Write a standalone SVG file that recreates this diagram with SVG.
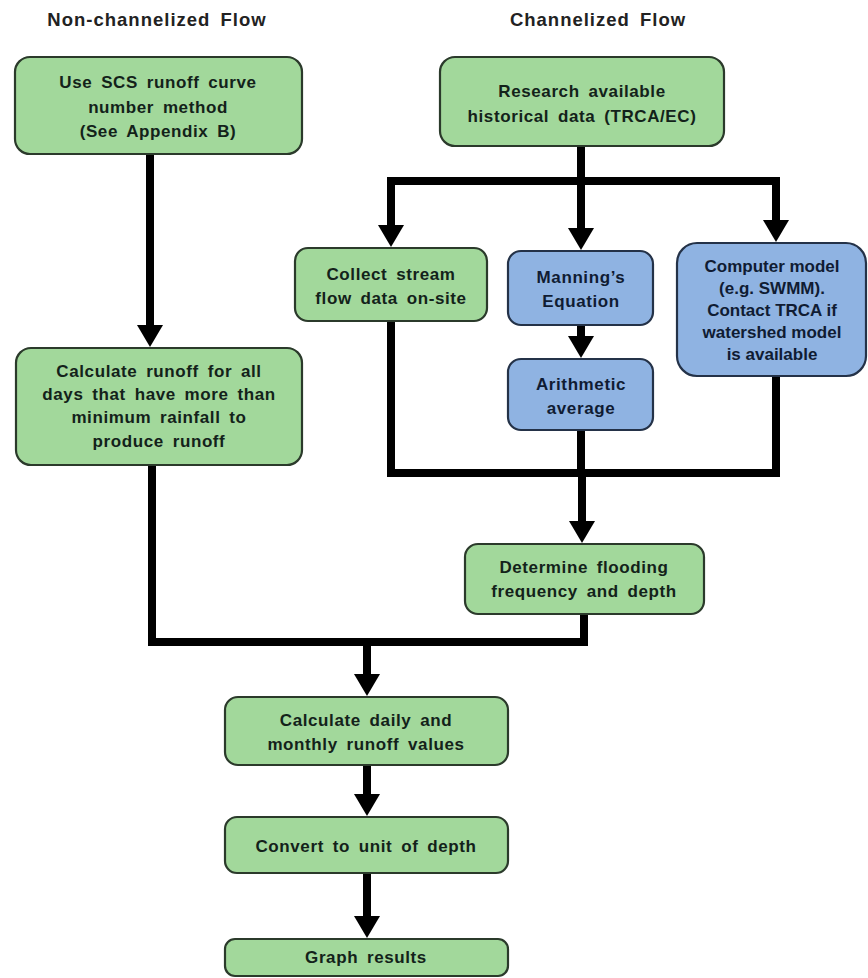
<svg xmlns="http://www.w3.org/2000/svg" width="868" height="978" viewBox="0 0 868 978">
<style>
.g{fill:#a2d89b;stroke:#2b3a2b;stroke-width:2.2}
.b{fill:#8fb3e2;stroke:#243248;stroke-width:2.2}
.t{font-family:"Liberation Sans",Arial,sans-serif;font-weight:bold;font-size:17px;text-anchor:middle;fill:#13221a;letter-spacing:0.6px;word-spacing:3.5px}
.tb{fill:#101c33}
.tc{letter-spacing:0;word-spacing:0}
.h{font-family:"Liberation Sans",Arial,sans-serif;font-weight:bold;font-size:18.5px;text-anchor:middle;fill:#222;letter-spacing:1px;word-spacing:4px}
.c{fill:none;stroke:#000;stroke-width:8;stroke-linejoin:miter;stroke-linecap:square}
</style>
<defs>
<marker id="ah" viewBox="0 0 22 26" refX="1" refY="13" markerWidth="22" markerHeight="26" markerUnits="userSpaceOnUse" orient="auto">
<path d="M0,0 L22,13 L0,26 z" fill="#000"/>
</marker>
</defs>
<rect width="868" height="978" fill="#fff"/>
<text class="h" x="157" y="26">Non-channelized Flow</text>
<text class="h" x="598" y="26">Channelized Flow</text>
<g id="connectors">
<path class="c" d="M150,157 V326" marker-end="url(#ah)"/>
<path class="c" d="M581,149 V181 M391,181 H776"/>
<path class="c" d="M391,181 V226" marker-end="url(#ah)"/>
<path class="c" d="M581,181 V229" marker-end="url(#ah)"/>
<path class="c" d="M776,181 V221" marker-end="url(#ah)"/>
<path class="c" d="M581,328 V337" marker-end="url(#ah)"/>
<path class="c" d="M391,324 V473 H776 V379 M581,433 V473"/>
<path class="c" d="M582,473 V522" marker-end="url(#ah)"/>
<path class="c" d="M152,468 V642 H584 V617"/>
<path class="c" d="M367,642 V675" marker-end="url(#ah)"/>
<path class="c" d="M367,768 V795" marker-end="url(#ah)"/>
<path class="c" d="M367,876 V917" marker-end="url(#ah)"/>
</g>
<g id="scs">
<rect class="g" x="15" y="57" width="287" height="97" rx="15"/>
<text class="t" x="158" y="88">Use SCS runoff curve</text>
<text class="t" x="158" y="113">number method</text>
<text class="t" x="158" y="137">(See Appendix B)</text>
</g>
<g id="research">
<rect class="g" x="440" y="57" width="284" height="89" rx="15"/>
<text class="t" x="582" y="97">Research available</text>
<text class="t" x="582" y="122">historical data (TRCA/EC)</text>
</g>
<g id="collect">
<rect class="g" x="295" y="248" width="192" height="73" rx="13"/>
<text class="t" x="391" y="280">Collect stream</text>
<text class="t" x="391" y="304">flow data on-site</text>
</g>
<g id="manning">
<rect class="b" x="508" y="251" width="145" height="74" rx="13"/>
<text class="t tb" x="581" y="283">Manning’s</text>
<text class="t tb" x="581" y="307">Equation</text>
</g>
<g id="computer">
<rect class="b" x="677" y="243" width="189" height="133" rx="20"/>
<text class="t tb tc" x="772" y="272">Computer model</text>
<text class="t tb tc" x="772" y="294">(e.g. SWMM).</text>
<text class="t tb tc" x="772" y="316">Contact TRCA if</text>
<text class="t tb tc" x="772" y="338">watershed model</text>
<text class="t tb tc" x="772" y="360">is available</text>
</g>
<g id="arithmetic">
<rect class="b" x="508" y="359" width="145" height="71" rx="13"/>
<text class="t tb" x="581" y="390">Arithmetic</text>
<text class="t tb" x="581" y="414">average</text>
</g>
<g id="calcrunoff">
<rect class="g" x="16" y="348" width="286" height="117" rx="15"/>
<text class="t" x="159" y="377">Calculate runoff for all</text>
<text class="t" x="159" y="400">days that have more than</text>
<text class="t" x="159" y="423">minimum rainfall to</text>
<text class="t" x="159" y="447">produce runoff</text>
</g>
<g id="determine">
<rect class="g" x="465" y="544" width="239" height="70" rx="13"/>
<text class="t" x="584" y="573">Determine flooding</text>
<text class="t" x="584" y="597">frequency and depth</text>
</g>
<g id="daily">
<rect class="g" x="225" y="697" width="283" height="68" rx="13"/>
<text class="t" x="366" y="726">Calculate daily and</text>
<text class="t" x="366" y="750">monthly runoff values</text>
</g>
<g id="convert">
<rect class="g" x="225" y="817" width="283" height="56" rx="12"/>
<text class="t" x="366" y="852">Convert to unit of depth</text>
</g>
<g id="graph">
<rect class="g" x="225" y="939" width="283" height="37" rx="10"/>
<text class="t" x="366" y="963">Graph results</text>
</g>
</svg>
